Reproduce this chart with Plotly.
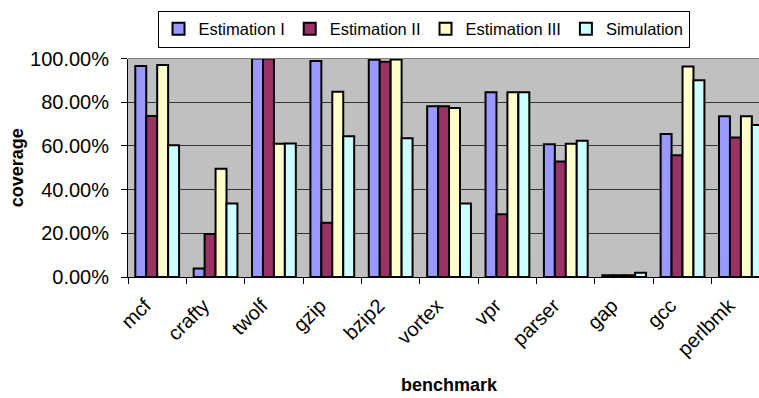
import plotly.graph_objects as go

benchmarks = ["mcf", "crafty", "twolf", "gzip", "bzip2", "vortex", "vpr", "parser", "gap", "gcc", "perlbmk"]
est1 = [0.966, 0.039, 1.000, 0.989, 0.994, 0.781, 0.845, 0.608, 0.008, 0.654, 0.736]
est2 = [0.737, 0.197, 1.000, 0.248, 0.985, 0.781, 0.287, 0.529, 0.008, 0.557, 0.639]
est3 = [0.970, 0.495, 0.610, 0.848, 0.995, 0.773, 0.845, 0.610, 0.008, 0.963, 0.736]
sim = [0.603, 0.336, 0.611, 0.644, 0.635, 0.336, 0.845, 0.624, 0.020, 0.900, 0.696]

series = [
    ("Estimation I", est1, "#9999FF"),
    ("Estimation II", est2, "#993366"),
    ("Estimation III", est3, "#FFFFCC"),
    ("Simulation", sim, "#CCFFFF"),
]

FONT = "Liberation Sans, Arial, sans-serif"

fig = go.Figure()
for name, vals, col in series:
    fig.add_trace(go.Bar(
        name=name, x=benchmarks, y=vals,
        marker=dict(color=col, line=dict(color="black", width=2)),
    ))

fig.update_layout(
    width=759, height=398,
    margin=dict(l=128, r=0, t=57, b=121),
    paper_bgcolor="white",
    plot_bgcolor="#C0C0C0",
    barmode="group",
    bargap=0.25,
    bargroupgap=0,
    font=dict(family=FONT, size=20, color="black"),
    showlegend=True,
    legend=dict(
        orientation="h",
        xref="container", yref="container",
        x=0.558, xanchor="center",
        y=1 - 29 / 398, yanchor="middle",
        bgcolor="white",
        bordercolor="black", borderwidth=1,
        font=dict(family=FONT, size=16.5, color="black"),
        itemwidth=30,
        traceorder="normal",
    ),
    xaxis=dict(
        type="category",
        range=[-0.5, 10.31],
        tickson="boundaries",
        ticks="outside", ticklen=6, tickcolor="black", tickwidth=1,
        tickangle=-45,
        ticklabelshift=-12,
        ticklabelstandoff=8,
        showline=True, linecolor="black", linewidth=1,
        showgrid=False,
        tickfont=dict(family=FONT, size=20, color="black"),
    ),
    yaxis=dict(
        range=[0, 1.0],
        tickvals=[0, 0.2, 0.4, 0.6, 0.8, 1.0],
        tickformat=".2%",
        ticks="outside", ticklen=6, tickcolor="black", tickwidth=1,
        ticklabelstandoff=8,
        showline=True, linecolor="black", linewidth=1,
        showgrid=True, gridcolor="#333333", gridwidth=1,
        zeroline=False,
        tickfont=dict(family=FONT, size=20, color="black"),
        title=dict(text="<b>coverage</b>", font=dict(family=FONT, size=18, color="black"), standoff=1),
    ),
    annotations=[dict(
        text="<b>benchmark</b>", xref="paper", yref="paper",
        x=(449 - 128) / 631, y=0.0, yshift=-108, showarrow=False,
        xanchor="center", yanchor="middle",
        font=dict(family=FONT, size=18, color="black"),
    )],
    shapes=[dict(type="line", xref="paper", yref="paper", x0=0, x1=1, y0=1, y1=1,
                 line=dict(color="#808080", width=1))],
)

fig.write_html("out.html", config={"displayModeBar": False},
               post_script="document.body.style.margin='0';")
